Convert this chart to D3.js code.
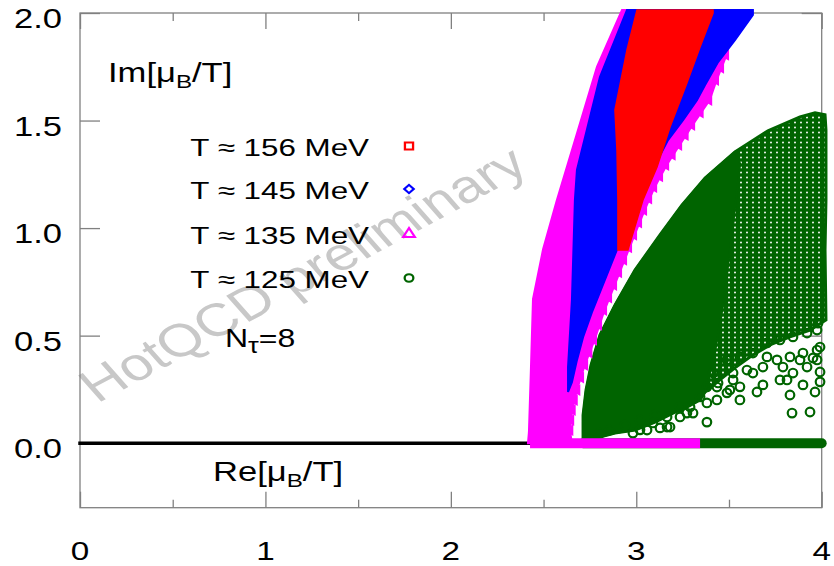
<!DOCTYPE html>
<html>
<head>
<meta charset="utf-8">
<script src="https://cdn.jsdelivr.net/npm/d3@7"></script>
<style>
  body { margin: 0; background: #fff; }
  svg { display: block; }
  text { font-family: "Liberation Sans", Arial, Helvetica, sans-serif; }
</style>
</head>
<body>
<svg id="chart" width="834" height="566"></svg>
<script>
// ---- axis ticks ----
const reTicks = [0, 1, 2, 3, 4];
const reMinorTicks = [0.5, 1.5, 2.5, 3.5];
const imTicks = [0, 0.5, 1.0, 1.5, 2.0];
const imTickLabels = ["0.0", "0.5", "1.0", "1.5", "2.0"];

// ---- legend ----
const seriesLabels = ["T \u2248 156 MeV", "T \u2248 145 MeV", "T \u2248 135 MeV", "T \u2248 125 MeV"];

// ---- zero regions of Z in the complex mu_B/T plane, [Re, Im] outlines per temperature ----
const t156Band = [
  [2.901, 0.898], [2.901, 1.131], [2.896, 1.363], [2.885, 1.549], [2.950, 1.828], [3.004, 2.014],
  [3.414, 2.014], [3.414, 2.000], [3.344, 1.842], [3.273, 1.674], [3.182, 1.470], [3.112, 1.284],
  [3.036, 1.131], [2.955, 0.898]
];
const t145Band = [
  [2.632, 0.238], [2.632, 0.354], [2.653, 0.666], [2.669, 1.131], [2.680, 1.270], [2.804, 1.702],
  [2.950, 2.014], [3.629, 2.014], [3.629, 1.991], [3.532, 1.874], [3.441, 1.772], [3.371, 1.665],
  [3.327, 1.595], [3.252, 1.502], [3.171, 1.409], [3.101, 1.293], [3.036, 1.177], [2.982, 1.074],
  [2.923, 0.958], [2.869, 0.842], [2.815, 0.726], [2.761, 0.609], [2.713, 0.493], [2.680, 0.386],
  [2.653, 0.284]
];
const t135Band = [
  [2.416, 0.000], [2.421, 0.050], [2.432, 0.350], [2.443, 0.670], [2.497, 0.900], [2.572, 1.130],
  [2.680, 1.440], [2.788, 1.750], [2.923, 2.014], [3.532, 2.014], [3.487, 1.805], [3.433, 1.688],
  [3.396, 1.595], [3.304, 1.479], [3.234, 1.386], [3.164, 1.293], [3.099, 1.190], [3.045, 1.084],
  [2.991, 0.968], [2.937, 0.852], [2.883, 0.735], [2.829, 0.619], [2.775, 0.480], [2.722, 0.363],
  [2.680, 0.247], [2.655, 0.154], [2.642, 0.061], [2.653, 0.000]
];
// outermost T = 135 MeV zeros (right edge of the band)
const t135Edge = [
  [3.482, 1.805], [3.455, 1.745], [3.428, 1.688], [3.391, 1.595], [3.345, 1.537], [3.299, 1.479],
  [3.264, 1.432], [3.229, 1.386], [3.194, 1.340], [3.159, 1.293], [3.126, 1.241], [3.094, 1.190],
  [3.067, 1.137], [3.040, 1.084], [3.013, 1.026], [2.986, 0.968], [2.959, 0.910], [2.932, 0.852],
  [2.905, 0.794], [2.878, 0.735], [2.851, 0.677], [2.824, 0.619], [2.797, 0.550], [2.770, 0.480],
  [2.745, 0.421], [2.722, 0.363], [2.700, 0.305], [2.680, 0.247], [2.666, 0.200], [2.655, 0.154],
  [2.647, 0.107], [2.642, 0.061]
];
// T = 125 MeV: full zero region (outer envelope) and its fully packed core
const t125Fan = [
  [2.713, 0.015], [2.713, 0.131], [2.729, 0.247], [2.756, 0.363], [2.804, 0.503], [2.885, 0.642],
  [2.993, 0.805], [3.128, 0.968], [3.246, 1.107], [3.371, 1.233], [3.532, 1.354], [3.710, 1.452],
  [3.883, 1.517], [3.964, 1.536], [4.018, 1.527], [4.023, 1.456], [4.023, 1.131], [4.018, 0.898],
  [4.023, 0.573], [3.937, 0.526], [3.829, 0.494], [3.721, 0.457], [3.613, 0.401], [3.532, 0.350],
  [3.451, 0.294], [3.371, 0.238], [3.344, 0.201], [3.273, 0.168], [3.198, 0.140], [3.101, 0.098],
  [2.993, 0.061], [2.885, 0.047], [2.804, 0.029], [2.750, 0.015]
];
const t125Core = [
  [2.713, 0.015], [2.713, 0.131], [2.729, 0.247], [2.756, 0.363], [2.804, 0.503], [2.885, 0.642],
  [2.993, 0.805], [3.128, 0.968], [3.246, 1.107], [3.371, 1.233], [3.532, 1.354], [3.560, 1.300],
  [3.520, 1.000], [3.470, 0.650], [3.420, 0.400], [3.371, 0.238], [3.344, 0.201], [3.273, 0.168],
  [3.198, 0.140], [3.101, 0.098], [2.993, 0.061], [2.885, 0.047], [2.804, 0.029], [2.750, 0.015]
];
// isolated T = 125 MeV zeros around the lower fan
const t125Scatter = [
  [2.939, 0.085], [2.982, 0.047], [3.058, 0.061], [3.128, 0.071], [3.182, 0.075], [3.306, 0.140],
  [3.381, 0.098], [3.381, 0.187], [3.559, 0.201], [3.651, 0.238], [3.683, 0.271], [3.829, 0.224],
  [3.840, 0.140], [3.937, 0.145], [3.899, 0.271], [3.964, 0.238], [3.991, 0.285], [3.505, 0.248],
  [3.441, 0.280], [3.813, 0.294], [3.991, 0.331], [3.991, 0.447], [3.980, 0.558], [3.953, 0.396],
  [3.883, 0.387], [3.791, 0.354], [3.705, 0.401], [3.629, 0.326], [3.522, 0.294], [3.435, 0.261],
  [3.344, 0.215], [3.290, 0.168], [3.236, 0.122], [3.166, 0.075], [2.858, 0.061], [2.804, 0.047],
  [3.020, 0.108], [3.101, 0.131],
  [3.273, 0.140], [3.381, 0.262], [3.414, 0.326], [3.489, 0.387], [3.559, 0.401], [3.629, 0.419],
  [3.705, 0.466], [3.775, 0.480], [3.845, 0.494], [3.921, 0.512], [3.975, 0.526], [3.522, 0.326],
  [3.597, 0.340], [3.683, 0.354], [3.759, 0.387], [3.829, 0.401], [3.899, 0.419], [3.975, 0.433],
  [3.775, 0.294], [3.845, 0.326], [3.921, 0.354], [3.975, 0.387], [3.435, 0.201], [3.489, 0.234],
  [3.559, 0.262], [3.166, 0.122], [3.090, 0.094], [3.020, 0.062], [3.236, 0.168]
];
// zeros lying on the real axis, [Re start, Re end]
const t135RealAxis = [2.427, 3.344];
const t125RealAxis = [2.713, 4.000];

// ---- layout ----
const svg = d3.select("#chart");
const x = d3.scaleLinear().domain([0, 4]).range([80, 821.7]);
const y = d3.scaleLinear().domain([-0.3, 2.0]).range([507.7, 13]);
const SX = 1.28; // horizontal stretch of all lettering

const colors = { t156: "#ff0000", t145: "#0000ff", t135: "#ff00ff", t125: "#006400" };

// ring texture for the loosely packed part of the T = 125 MeV region
const defs = svg.append("defs");
const pat = defs.append("pattern").attr("id", "rings")
  .attr("patternUnits", "userSpaceOnUse").attr("width", 6).attr("height", 5);
pat.append("rect").attr("width", 6).attr("height", 5).attr("fill", "#fff");
pat.append("circle").attr("cx", 3).attr("cy", 2.5).attr("r", 2.3)
  .attr("fill", "none").attr("stroke", colors.t125).attr("stroke-width", 2.7);

svg.append("rect").attr("width", 834).attr("height", 566).attr("fill", "#fff");

function stretchedText(px, py, size, anchor, parts, opts) {
  opts = opts || {};
  const t = svg.append("text")
    .attr("transform", `translate(${px},${py}) scale(${SX},1)`)
    .attr("font-size", size)
    .attr("text-anchor", anchor)
    .attr("fill", "#000");
  parts.forEach(p => {
    const s = t.append("tspan").text(p.t);
    const k = opts.subScale || 0.7;
    if (p.sub) s.attr("font-size", size * k).attr("dy", size * 0.22);
    if (p.back) s.attr("dy", -size * 0.22);
  });
  return t;
}

// watermark
svg.append("text")
  .attr("transform", `translate(314,287) scale(${SX},1) rotate(-34.6)`)
  .attr("font-size", 46)
  .attr("text-anchor", "middle")
  .attr("fill", "#c8c8c8")
  .text("HotQCD preliminary");

// frame
svg.append("rect")
  .attr("x", x(0)).attr("y", y(2.0))
  .attr("width", x(4) - x(0)).attr("height", y(-0.3) - y(2.0))
  .attr("fill", "none").attr("stroke", "#808080").attr("stroke-width", 1.3);

// ticks via d3 axes (inward, mirrored)
function tickAxis(axis, transform) {
  const g = svg.append("g").attr("transform", transform).call(axis);
  g.select(".domain").remove();
  g.selectAll("line").attr("stroke", "#808080").attr("stroke-width", 1.3);
  g.selectAll("text").remove();
}
tickAxis(d3.axisBottom(x).tickValues(reTicks).tickSize(-16).tickFormat(""), `translate(0,${y(-0.3)})`);
tickAxis(d3.axisBottom(x).tickValues(reMinorTicks).tickSize(-8).tickFormat(""), `translate(0,${y(-0.3)})`);
tickAxis(d3.axisTop(x).tickValues(reTicks).tickSize(-16).tickFormat(""), `translate(0,${y(2.0)})`);
tickAxis(d3.axisTop(x).tickValues(reMinorTicks).tickSize(-8).tickFormat(""), `translate(0,${y(2.0)})`);
tickAxis(d3.axisLeft(y).tickValues(imTicks).tickSize(-20).tickFormat(""), `translate(${x(0)},0)`);
tickAxis(d3.axisRight(y).tickValues(imTicks).tickSize(-20).tickFormat(""), `translate(${x(4)},0)`);

// tick labels
reTicks.forEach(v => stretchedText(x(v), 560, 26, "middle", [{ t: String(v) }]));
imTicks.forEach((v, i) => stretchedText(62, y(v) + 15, 27, "end", [{ t: imTickLabels[i] }]));

// zero line along the real axis
svg.append("line")
  .attr("x1", x(0)).attr("x2", x(4)).attr("y1", y(0)).attr("y2", y(0))
  .attr("stroke", "#000").attr("stroke-width", 3.5).attr("stroke-linecap", "square");

// data
const outline = d3.line().x(d => x(d[0])).y(d => y(d[1]));
const data = svg.append("g");

// T = 125 MeV
data.append("line")
  .attr("x1", x(t125RealAxis[0])).attr("x2", x(t125RealAxis[1]))
  .attr("y1", y(0)).attr("y2", y(0))
  .attr("stroke", colors.t125).attr("stroke-width", 10).attr("stroke-linecap", "round");
data.append("path").attr("d", outline(t125Fan) + "Z")
  .attr("fill", "url(#rings)").attr("stroke", colors.t125).attr("stroke-width", 3);
data.append("path").attr("d", outline(t125Core) + "Z")
  .attr("fill", colors.t125).attr("stroke", colors.t125).attr("stroke-width", 2);
data.append("g").selectAll("circle").data(t125Scatter).join("circle")
  .attr("cx", d => x(d[0])).attr("cy", d => y(d[1])).attr("r", 4.3)
  .attr("fill", "none").attr("stroke", colors.t125).attr("stroke-width", 2.2);

// T = 135 MeV
data.append("line")
  .attr("x1", x(t135RealAxis[0])).attr("x2", x(t135RealAxis[1]))
  .attr("y1", y(0)).attr("y2", y(0))
  .attr("stroke", colors.t135).attr("stroke-width", 10);
data.append("path").attr("d", outline(t135Band) + "Z")
  .attr("fill", colors.t135).attr("stroke", colors.t135).attr("stroke-width", 2);
data.append("g").selectAll("path").data(t135Edge).join("path")
  .attr("d", d3.symbol(d3.symbolTriangle, 60)())
  .attr("transform", d => `translate(${x(d[0])},${y(d[1])}) rotate(150)`)
  .attr("fill", colors.t135);

// T = 145 MeV
data.append("path").attr("d", outline(t145Band) + "Z")
  .attr("fill", colors.t145).attr("stroke", colors.t145).attr("stroke-width", 2);

// T = 156 MeV
data.append("path").attr("d", outline(t156Band) + "Z")
  .attr("fill", colors.t156).attr("stroke", colors.t156).attr("stroke-width", 1.5);

// axis titles
stretchedText(108, 82, 27, "start", [{ t: "Im[\u03bc" }, { t: "B", sub: true }, { t: "/T]", back: true }]);
stretchedText(213, 481, 27, "start", [{ t: "Re[\u03bc" }, { t: "B", sub: true }, { t: "/T]", back: true }]);

// legend
const legendY = [156, 199, 244, 288];
const legendColors = [colors.t156, colors.t145, colors.t135, colors.t125];
const legendSymbols = [
  { s: d3.symbolSquare, size: 50, rot: 0 },
  { s: d3.symbolSquare, size: 34, rot: 45 },
  { s: d3.symbolTriangle, size: 45, rot: 0 },
  { s: d3.symbolCircle, size: 45, rot: 0 }
];
seriesLabels.forEach((lab, i) => {
  stretchedText(369, legendY[i], 24.5, "end", [{ t: lab }]);
  const m = legendSymbols[i];
  svg.append("path")
    .attr("d", d3.symbol(m.s, m.size)())
    .attr("transform", `translate(409,${legendY[i] - 10}) scale(1.15,1) rotate(${m.rot})`)
    .attr("fill", "none").attr("stroke", legendColors[i]).attr("stroke-width", 2);
});

// lattice label
stretchedText(225, 347, 25, "start", [{ t: "N" }, { t: "\u03c4", sub: true }, { t: "=8", back: true }], { subScale: 0.85 });
</script>
</body>
</html>
